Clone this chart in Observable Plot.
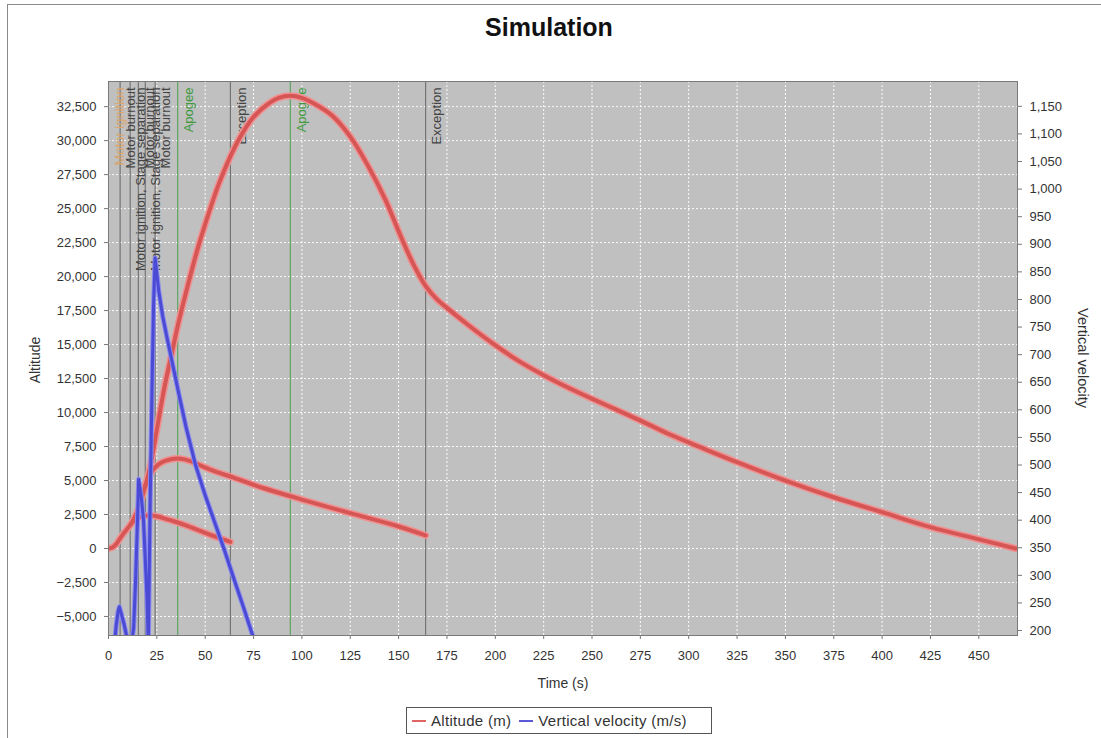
<!DOCTYPE html>
<html><head><meta charset="utf-8">
<script src="https://cdn.jsdelivr.net/npm/d3@7"></script>
<script src="https://cdn.jsdelivr.net/npm/@observablehq/plot@0.6"></script>
<style>
body{margin:0;background:#fff;font-family:"Liberation Sans",Arial,sans-serif;}
#wrap{position:relative;width:1101px;height:738px;overflow:hidden;background:#fff;}
#border{position:absolute;left:7px;top:4px;right:-2px;bottom:-2px;border-top:1px solid #8a8a8a;border-left:1px solid #8a8a8a;}
#title{position:absolute;left:0;width:1098px;top:13px;text-align:center;font-weight:bold;font-size:25px;color:#111;}
#chart{position:absolute;left:0;top:0;}
.atitle{position:absolute;font-size:14px;color:#333;white-space:nowrap;}
#ylab{left:35px;top:360px;transform:translate(-50%,-50%) rotate(-90deg);}
#y2lab{left:1083px;top:358px;transform:translate(-50%,-50%) rotate(90deg);font-size:14.5px;}
#xlab{left:563px;top:683px;transform:translate(-50%,-50%);}
#legend{position:absolute;left:406px;top:707px;width:296px;height:25px;border:1px solid #555;display:flex;align-items:center;padding:0 4px 0 4px;font-size:15px;color:#333;background:#fff;letter-spacing:0.3px;}
#legend .sw{display:inline-block;width:14px;height:2px;margin:0 5px 0 1px;}
</style></head>
<body>
<div id="wrap">
  <div id="border"></div>
  <div id="chart"></div>
  <div id="title">Simulation</div>
  <div class="atitle" id="ylab">Altitude</div>
  <div class="atitle" id="y2lab">Vertical velocity</div>
  <div class="atitle" id="xlab">Time (s)</div>
  <div id="legend"></div>
</div>
<script>
// ---- data ----
const xDomain = [0, 470];
const altDomain = [-6400, 34350];
const velDomain = [191, 1195];
const xTicks = [0,25,50,75,100,125,150,175,200,225,250,275,300,325,350,375,400,425,450];
const altTicks = [-5000,-2500,0,2500,5000,7500,10000,12500,15000,17500,20000,22500,25000,27500,30000,32500];
const velTicks = [200,250,300,350,400,450,500,550,600,650,700,750,800,850,900,950,1000,1050,1100,1150];

// sustainer altitude (m)
const mainT   = [0,2,4,6,8,10,11.2,13,15.5,17,19,20.7,22.5,24.1,26,29,32.8,36,40,46,52.6,57,62.9,68,74.8,82,88,94,100,106,116,125,134,143,151,158,164,170,175,185,199,212,225,237,249,262,275,290,306,325,350,375,400,425,449,469];
const mainAlt = [0,80,320,750,1150,1500,1720,2150,2950,3600,4600,5500,6700,8000,9550,11900,14400,16500,18800,22000,25000,26800,28800,30250,31700,32650,33150,33300,33150,32750,31800,30300,28200,25700,23000,20800,19300,18300,17700,16550,15050,13800,12750,11880,11080,10250,9410,8400,7450,6350,5000,3770,2670,1570,710,0];
// second stage (separated ~19 s) altitude
const stage2T   = [19,22,26,30,36,42,48,55,65,80,100,125,150,164];
const stage2Alt = [4600,5600,6200,6480,6620,6450,6080,5680,5200,4450,3600,2600,1620,960];
// first stage (separated ~11 s) altitude
const stage1T   = [11.2,14,18,22,26,28,35,40,50,63];
const stage1Alt = [1720,2150,2380,2420,2330,2250,1950,1700,1150,480];
// vertical velocity (m/s)
const velT = [0,1,2,3,4,5,5.6,6.5,8,9.5,11,12,13,14,15,15.6,17,18.1,19,19.9,20.6,21.5,22.5,23.3,24.1,26,28,30,33,36,40,45,50,55,60,65,70,75,80];
const velV = [0,40,100,170,210,235,243,232,212,188,168,178,205,290,400,474,440,400,330,260,175,420,640,790,875,815,770,735,685,635,570,500,445,395,345,292,240,186,135];

// events
const evT     = [0,6,11.2,15.4,19,24.1,35.8,63,94,164];
const evLabel = ["Motor ignition","Motor burnout","Motor ignition, Stage separation","Motor burnout","Motor ignition, Stage separation","Motor burnout","Apogee","Exception","Apogee","Exception"];

// ---- build ----
const toAlt = d3.scaleLinear().domain(velDomain).range(altDomain);
const evColor = l => l === "Apogee" ? "#3f9a3f" : (l === "Motor ignition" ? "#dca56a" : "#444");
const evLineColor = l => l === "Apogee" ? "#4e9e4e" : "#666";
const events = evT.map((t,i) => ({t, label: evLabel[i]}));
const alt = [
  ...mainT.map((t,i)=>({t, a: mainAlt[i], s:"main"})),
  ...stage2T.map((t,i)=>({t, a: stage2Alt[i], s:"s2"})),
  ...stage1T.map((t,i)=>({t, a: stage1Alt[i], s:"s1"}))
];
const vel = velT.map((t,i)=>({t, v: velV[i]}));
const fmt = d3.format(",");

const chart = Plot.plot({
  width: 1101, height: 700,
  marginTop: 81, marginBottom: 65, marginLeft: 108, marginRight: 84,
  style: {fontFamily: "'Liberation Sans', Arial, sans-serif", fontSize: "13px", color: "#333", background: "transparent", overflow: "visible"},
  x: {domain: xDomain},
  y: {domain: altDomain},
  marks: [
    Plot.frame({fill: "#c0c0c0", stroke: null}),
    Plot.gridX(xTicks, {stroke: "#ffffff", strokeOpacity: 0.95, strokeDasharray: "2,2"}),
    Plot.gridY(altTicks, {stroke: "#ffffff", strokeOpacity: 0.95, strokeDasharray: "2,2"}),
    Plot.ruleX(events, {x: "t", stroke: d => evLineColor(d.label), strokeWidth: 1}),
    Plot.text(events, {x: "t", text: "label", frameAnchor: "top", rotate: -90, textAnchor: "end", dx: 6, dy: 6, fill: d => evColor(d.label), fontSize: 13}),
    Plot.line(alt, {x: "t", y: "a", z: "s", stroke: "#f09090", strokeWidth: 7, curve: "catmull-rom", clip: true}),
    Plot.line(alt, {x: "t", y: "a", z: "s", stroke: "#d65656", strokeWidth: 4, curve: "catmull-rom", clip: true}),
    Plot.line(vel, {x: "t", y: d => toAlt(d.v), stroke: "#8a8af0", strokeWidth: 5, clip: true}),
    Plot.line(vel, {x: "t", y: d => toAlt(d.v), stroke: "#4a4ad4", strokeWidth: 3, clip: true}),
    Plot.frame({stroke: "#7a7a7a"}),
    Plot.axisX(xTicks, {tickSize: 4, tickPadding: 11, label: null, stroke: "#777"}),
    Plot.axisY(altTicks, {anchor: "left", tickFormat: d => fmt(d), tickSize: 4, tickPadding: 8, label: null, stroke: "#777"}),
    Plot.axisY(velTicks.map(v => toAlt(v)), {anchor: "right", tickFormat: d => fmt(Math.round(toAlt.invert(d))), tickSize: 4, tickPadding: 8, label: null, stroke: "#777"})
  ]
});
document.getElementById("chart").appendChild(chart);

// legend
const lg = document.getElementById("legend");
[["Altitude (m)", "#e06666"], ["Vertical velocity (m/s)", "#5a5ad8"]].forEach(([t,c], i) => {
  const sw = document.createElement("span"); sw.className = "sw"; sw.style.background = c;
  if (i) sw.style.marginLeft = "8px";
  const tx = document.createElement("span"); tx.textContent = t;
  lg.appendChild(sw); lg.appendChild(tx);
});
</script>
</body></html>
